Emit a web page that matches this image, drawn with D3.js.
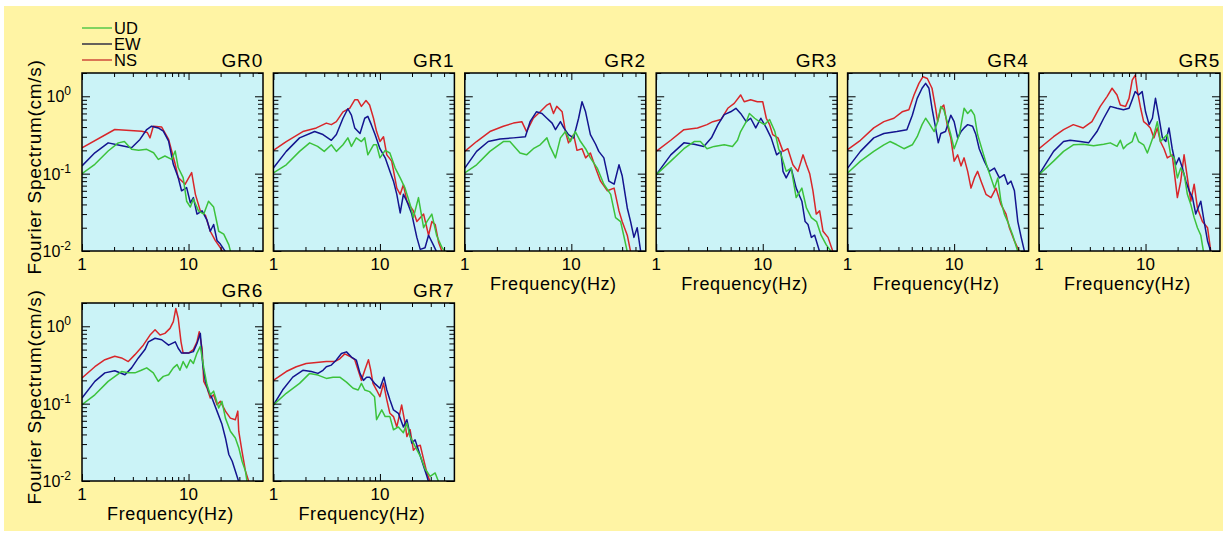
<!DOCTYPE html>
<html><head><meta charset="utf-8">
<script src="https://cdn.jsdelivr.net/npm/d3@7"></script>
<style>html,body{margin:0;padding:0;background:#fff;}svg{display:block;font-family:"Liberation Sans",Arial,sans-serif;}</style>
</head><body>
<svg id="c" width="1223" height="535"></svg>
<script>
// ---------- data ----------
const categories = ["GR0","GR1","GR2","GR3","GR4","GR5","GR6","GR7"];
const components = ["UD","EW","NS"];
const xMajorTicks = [1,10];
const xTickLabels = ["1","10"];
const xMinorTicks = [2,3,4,5,6,7,8,9,20,30,40];
const yMajorTicks = [0.01,0.1,1];
const yTickExp = ["-2","-1","0"];
const yMinorTicks = [0.02,0.03,0.04,0.05,0.06,0.07,0.08,0.09,0.2,0.3,0.4,0.5,0.6,0.7,0.8,0.9,2];

// [frequency Hz, amplitude cm/s]
const GR0_UD = [[1,0.1],[1.32,0.132],[1.76,0.196],[2.19,0.25],[2.5,0.26],[2.92,0.206],[3.4,0.2],[4.05,0.206],[4.7,0.186],[5.2,0.153],[6.0,0.169],[6.95,0.153],[7.5,0.196],[8.0,0.12],[8.9,0.089],[9.6,0.044],[10.4,0.037],[11.1,0.047],[12.4,0.033],[13.9,0.03],[15.4,0.044],[17.2,0.037],[19.2,0.018],[21.4,0.0165],[23.9,0.012],[24.8,0.0098]];
const GR0_EW = [[1,0.126],[1.32,0.186],[1.76,0.25],[2.19,0.234],[2.92,0.216],[3.5,0.277],[4.05,0.372],[4.5,0.41],[5.2,0.39],[5.8,0.354],[6.5,0.263],[7.2,0.132],[8.0,0.089],[8.6,0.06],[9.6,0.066],[10.4,0.042],[11.1,0.049],[12.0,0.03],[13.4,0.033],[14.9,0.025],[16.0,0.018],[17.2,0.022],[18.5,0.0137],[19.9,0.0123],[22.2,0.0098]];
const GR0_NS = [[1,0.216],[2.03,0.372],[3.63,0.354],[4.1,0.34],[4.35,0.29],[4.67,0.41],[5.6,0.4],[6.5,0.277],[7.5,0.132],[8.0,0.089],[9.3,0.073],[10.7,0.103],[11.6,0.054],[12.9,0.033],[14.4,0.029],[16.0,0.018],[17.8,0.0137],[19.9,0.011],[20.9,0.0098]];

const GR1_UD = [[1,0.102],[1.32,0.13],[1.76,0.194],[2.19,0.25],[2.6,0.225],[3.0,0.194],[3.5,0.236],[3.9,0.194],[4.5,0.236],[5.0,0.29],[5.4,0.225],[6.0,0.29],[6.7,0.26],[7.2,0.29],[7.7,0.175],[8.7,0.236],[9.3,0.236],[10,0.16],[11.2,0.2],[12.4,0.185],[13.9,0.118],[15.5,0.088],[17.2,0.065],[19.2,0.04],[20.6,0.027],[23,0.049],[25.7,0.02],[27.6,0.024],[30.7,0.03],[34,0.016],[38.3,0.011],[41,0.0098]];
const GR1_EW = [[1,0.118],[1.32,0.194],[1.76,0.29],[2.44,0.35],[2.92,0.32],[3.5,0.27],[3.9,0.32],[4.5,0.52],[5.0,0.69],[5.4,0.57],[5.8,0.39],[6.5,0.33],[7.2,0.52],[7.7,0.55],[8.3,0.43],[9.0,0.32],[10,0.21],[11.2,0.16],[12.4,0.107],[13.4,0.08],[14.4,0.054],[15.5,0.031],[16.6,0.054],[17.9,0.044],[19.9,0.03],[22.2,0.015],[23.9,0.0105],[26.5,0.011],[28.6,0.016],[31.7,0.012],[34,0.0098]];
const GR1_NS = [[1,0.2],[1.32,0.26],[1.89,0.35],[2.53,0.39],[3.14,0.45],[3.5,0.43],[3.9,0.47],[4.5,0.63],[5.2,0.7],[5.8,0.9],[6.2,0.9],[6.7,0.74],[7.4,0.88],[8.0,0.77],[8.7,0.52],[9.3,0.35],[10,0.26],[10.8,0.3],[11.6,0.175],[12.9,0.145],[14.4,0.065],[15.5,0.054],[16.6,0.072],[17.9,0.044],[20.6,0.033],[22.2,0.024],[25.7,0.03],[28.6,0.016],[30.7,0.024],[33,0.022],[35.5,0.013],[38.3,0.0098]];

const GR2_UD = [[1,0.102],[1.29,0.13],[1.72,0.194],[2.3,0.26],[2.65,0.26],[3.3,0.185],[3.8,0.175],[4.4,0.21],[5.1,0.236],[5.9,0.29],[6.3,0.225],[7.1,0.16],[7.9,0.29],[8.8,0.35],[9.8,0.26],[10.9,0.35],[12.2,0.26],[13.6,0.21],[15.1,0.16],[17.5,0.118],[20.2,0.073],[23.4,0.054],[26,0.027],[29,0.024],[31,0.016],[33.5,0.0098]];
const GR2_EW = [[1,0.118],[1.29,0.194],[1.66,0.26],[2.14,0.28],[2.86,0.29],[3.7,0.3],[4.1,0.47],[4.7,0.63],[5.3,0.6],[5.9,0.52],[6.6,0.45],[7.1,0.37],[7.9,0.47],[8.5,0.39],[9.4,0.32],[10.5,0.29],[11.7,0.52],[12.6,0.85],[13.6,0.63],[15.1,0.32],[16.9,0.24],[18.1,0.194],[20.2,0.16],[22.5,0.08],[25.2,0.073],[28,0.13],[30,0.094],[33.5,0.036],[36,0.024],[38.7,0.015],[41.5,0.02],[44.8,0.0098]];
const GR2_NS = [[1,0.194],[1.29,0.26],[1.72,0.35],[2.3,0.41],[2.86,0.45],[3.43,0.47],[3.8,0.35],[4.4,0.52],[5.1,0.63],[5.9,0.77],[6.3,0.81],[6.8,0.6],[7.3,0.74],[8.2,0.63],[8.8,0.35],[9.4,0.25],[10.5,0.32],[11.3,0.2],[12.6,0.21],[13.6,0.16],[15.1,0.185],[16.9,0.118],[18.8,0.08],[21.8,0.06],[25.2,0.065],[28,0.033],[30,0.024],[33.5,0.016],[36,0.0098]];

const GR3_UD = [[1,0.097],[1.37,0.145],[1.82,0.21],[2.27,0.26],[2.6,0.26],[3.0,0.21],[3.5,0.225],[4.35,0.236],[5.2,0.225],[5.8,0.27],[6.2,0.35],[7.0,0.47],[7.5,0.6],[8.4,0.52],[9.3,0.47],[10.4,0.43],[11.6,0.5],[13,0.35],[14.1,0.21],[15.2,0.16],[16.6,0.107],[18.5,0.118],[20.6,0.049],[23.3,0.065],[25.7,0.036],[28.6,0.027],[32,0.024],[35.3,0.016],[39.5,0.012],[44,0.0098]];
const GR3_EW = [[1,0.097],[1.37,0.175],[1.82,0.25],[2.27,0.24],[2.8,0.225],[3.3,0.29],[3.8,0.43],[4.35,0.58],[5.0,0.63],[5.6,0.7],[6.2,0.6],[7.0,0.47],[7.7,0.52],[8.6,0.39],[9.6,0.52],[10.8,0.39],[12,0.29],[13.5,0.175],[14.8,0.194],[15.5,0.107],[16.6,0.088],[18.5,0.118],[20.6,0.065],[23.3,0.044],[25,0.024],[26.6,0.022],[28.6,0.015],[30.7,0.016],[34.2,0.0098]];
const GR3_NS = [[1,0.194],[1.37,0.27],[1.82,0.37],[2.44,0.39],[3.0,0.43],[3.4,0.47],[4.05,0.5],[4.7,0.7],[5.4,0.81],[6.2,1.04],[6.7,0.85],[7.7,0.9],[8.9,0.85],[10,0.85],[10.8,0.52],[11.6,0.43],[12.4,0.32],[13.9,0.29],[15.5,0.194],[17.2,0.21],[19.2,0.13],[21.4,0.107],[23.9,0.175],[25.7,0.13],[27.6,0.1],[29.6,0.06],[31.8,0.03],[34.2,0.033],[36.8,0.018],[41,0.015],[45.6,0.0098]];

const GR4_UD = [[1,0.102],[1.32,0.145],[1.76,0.194],[2.19,0.236],[2.5,0.26],[2.9,0.236],[3.38,0.21],[4.05,0.236],[4.5,0.3],[5.0,0.43],[5.4,0.52],[5.8,0.45],[6.5,0.35],[7.0,0.47],[7.5,0.74],[8.0,0.67],[8.6,0.47],[9.3,0.32],[10,0.21],[11.2,0.32],[12.4,0.7],[13.4,0.6],[14.4,0.67],[15.5,0.57],[16.6,0.32],[18.5,0.194],[20.6,0.118],[22.2,0.088],[23.9,0.065],[25.7,0.088],[27.5,0.044],[29.6,0.03],[31.8,0.024],[35.5,0.016],[39.6,0.0098]];
const GR4_EW = [[1,0.118],[1.32,0.194],[1.76,0.29],[2.19,0.33],[2.9,0.35],[3.6,0.37],[4.05,0.57],[4.5,0.94],[5.0,1.27],[5.4,1.47],[5.8,1.27],[6.2,0.7],[6.7,0.39],[7.1,0.25],[7.5,0.33],[8.3,0.35],[9.3,0.57],[10,0.47],[10.8,0.29],[11.6,0.35],[12.4,0.39],[13.4,0.43],[14.9,0.41],[16,0.32],[17.2,0.21],[19.2,0.145],[21.4,0.107],[23.9,0.118],[26.6,0.088],[29.6,0.097],[31.8,0.073],[34.2,0.08],[36.8,0.06],[39.6,0.024],[42.6,0.015],[45.8,0.0098]];
const GR4_NS = [[1,0.204],[1.32,0.27],[1.76,0.39],[2.19,0.47],[2.72,0.52],[3.25,0.63],[3.76,0.67],[4.2,1.04],[4.67,1.47],[5.1,1.79],[5.6,1.7],[6.2,1.27],[6.7,0.7],[7.0,0.47],[7.5,0.7],[8.0,0.77],[8.6,0.43],[9.3,0.29],[10,0.145],[10.8,0.175],[11.6,0.126],[12.4,0.16],[13.4,0.107],[14.4,0.065],[15.5,0.088],[16.6,0.107],[17.9,0.08],[19.9,0.054],[22.2,0.049],[24.7,0.065],[27.5,0.04],[30.7,0.03],[33,0.02],[36.8,0.0135],[41,0.0098]];

const GR5_UD = [[1,0.097],[1.37,0.145],[1.7,0.194],[2.1,0.236],[2.6,0.24],[3.25,0.23],[4.05,0.24],[4.67,0.25],[5.4,0.225],[5.8,0.27],[6.2,0.21],[6.7,0.236],[7.5,0.26],[8.0,0.34],[8.6,0.26],[9.6,0.236],[10.4,0.185],[11.1,0.236],[12,0.32],[12.9,0.47],[13.8,0.26],[14.9,0.29],[16,0.32],[17.2,0.175],[18.5,0.16],[19.9,0.088],[21.4,0.118],[23,0.1],[24.7,0.054],[26.6,0.04],[28.6,0.027],[30.7,0.02],[33,0.016],[35,0.0098]];
const GR5_EW = [[1,0.097],[1.37,0.194],[1.7,0.26],[1.96,0.27],[2.44,0.26],[2.92,0.25],[3.5,0.35],[4.05,0.52],[4.67,0.74],[5.4,0.7],[6.2,0.67],[7.0,0.7],[7.5,0.9],[8.0,1.15],[8.6,1.04],[9.3,1.15],[10,0.63],[10.8,0.43],[11.6,0.52],[12.4,0.94],[13.4,0.52],[14.4,0.29],[15.5,0.26],[16.6,0.39],[17.8,0.21],[19.2,0.13],[20.6,0.16],[22.2,0.118],[23.9,0.08],[25.7,0.06],[27.6,0.049],[29.6,0.03],[33,0.044],[35.5,0.024],[38.2,0.0135],[41,0.0098]];
const GR5_NS = [[1,0.21],[1.37,0.3],[1.7,0.37],[2.1,0.43],[2.6,0.39],[3.14,0.47],[3.76,0.74],[4.35,0.99],[4.85,1.27],[5.4,1.04],[5.8,0.77],[6.5,0.74],[7.0,0.94],[7.5,1.62],[8.0,1.88],[8.4,1.15],[9.0,0.7],[9.6,0.47],[10.4,0.43],[11.1,0.39],[12,0.29],[12.9,0.39],[13.8,0.26],[14.9,0.21],[16,0.16],[17.8,0.175],[19.9,0.049],[21.4,0.08],[23,0.175],[24.7,0.088],[26.6,0.044],[28.6,0.073],[30.7,0.036],[34.2,0.024],[38.2,0.02],[41,0.0098]];

const GR6_UD = [[1,0.097],[1.32,0.13],[1.76,0.194],[2.35,0.26],[2.72,0.25],[3.14,0.25],[3.6,0.27],[4.05,0.29],[4.67,0.25],[5.2,0.194],[5.8,0.225],[6.5,0.236],[7.2,0.29],[7.8,0.32],[8.3,0.27],[8.9,0.35],[9.6,0.29],[10.4,0.37],[11.1,0.33],[12,0.45],[12.9,0.55],[13.9,0.29],[14.9,0.175],[16,0.13],[17.2,0.145],[19.2,0.088],[20.6,0.107],[22.2,0.065],[24.7,0.044],[27.5,0.036],[29.6,0.027],[31.8,0.018],[34.2,0.0135],[35.4,0.0098]];
const GR6_EW = [[1,0.118],[1.32,0.194],[1.64,0.25],[2.03,0.266],[2.53,0.236],[2.92,0.29],[3.38,0.39],[3.9,0.5],[4.2,0.63],[4.85,0.7],[5.6,0.67],[6.5,0.57],[7.5,0.63],[8.0,0.52],[8.6,0.45],[10,0.45],[11.1,0.47],[12,0.6],[12.9,0.81],[13.6,0.32],[14.4,0.194],[15.4,0.145],[16.6,0.118],[18.5,0.08],[20.6,0.054],[22.2,0.036],[23.9,0.022],[25.7,0.018],[27.5,0.0135],[29.6,0.0098]];
const GR6_NS = [[1,0.215],[1.32,0.3],[1.64,0.37],[2.03,0.41],[2.35,0.39],[2.72,0.35],[3.14,0.43],[3.76,0.57],[4.35,0.77],[4.85,0.9],[5.4,0.77],[6.0,0.81],[6.7,0.94],[7.2,1.15],[7.6,1.7],[8.0,1.27],[8.5,0.63],[8.9,0.45],[10,0.45],[11.1,0.5],[12,0.63],[12.6,0.85],[13.4,0.52],[13.9,0.194],[14.9,0.16],[16,0.118],[17.2,0.13],[18.5,0.097],[19.9,0.107],[22.2,0.08],[24.7,0.065],[27.5,0.062],[29,0.08],[29.6,0.044],[31.8,0.024],[34.2,0.0135],[36.8,0.0098]];

const GR7_UD = [[1,0.096],[1.32,0.136],[1.76,0.183],[2.19,0.246],[2.62,0.234],[3.14,0.212],[3.63,0.22],[4.2,0.22],[4.85,0.19],[5.6,0.158],[6.25,0.15],[6.7,0.183],[7.2,0.15],[8.0,0.143],[8.9,0.123],[9.3,0.062],[10.4,0.083],[11.2,0.068],[12.4,0.068],[13.4,0.046],[14.9,0.05],[16.6,0.042],[17.9,0.056],[19.2,0.0375],[21.4,0.028],[23.9,0.021],[26.6,0.0143],[29.6,0.0115],[33,0.0127],[35.5,0.0098]];
const GR7_EW = [[1,0.096],[1.22,0.15],[1.52,0.22],[1.89,0.27],[2.27,0.26],[2.62,0.246],[2.92,0.27],[3.14,0.3],[3.5,0.315],[3.9,0.366],[4.35,0.445],[4.85,0.467],[5.4,0.4],[6.0,0.366],[6.5,0.246],[7.0,0.2],[7.5,0.22],[8.0,0.22],[8.9,0.183],[10,0.158],[10.9,0.22],[11.6,0.15],[12.4,0.112],[13.4,0.083],[14.9,0.075],[16.6,0.05],[17.9,0.062],[19.9,0.031],[21.4,0.034],[23,0.025],[25.7,0.0155],[27.6,0.0115],[28.6,0.0098]];
const GR7_NS = [[1,0.2],[1.32,0.26],[1.64,0.3],[2.03,0.33],[2.53,0.34],[3.14,0.35],[3.76,0.35],[4.2,0.38],[4.67,0.44],[5.2,0.41],[5.8,0.37],[6.25,0.27],[6.7,0.2],[7.2,0.27],[7.8,0.37],[8.2,0.27],[8.6,0.183],[9.3,0.15],[10,0.123],[10.8,0.183],[11.6,0.112],[12.4,0.075],[13.4,0.068],[14.4,0.05],[16,0.096],[17.2,0.056],[17.9,0.0375],[19.2,0.046],[20.6,0.025],[22.2,0.028],[23.9,0.029],[25.7,0.019],[27.6,0.0127],[29.6,0.0098]];

const seriesByPanel = {
  GR0:{UD:GR0_UD,EW:GR0_EW,NS:GR0_NS}, GR1:{UD:GR1_UD,EW:GR1_EW,NS:GR1_NS},
  GR2:{UD:GR2_UD,EW:GR2_EW,NS:GR2_NS}, GR3:{UD:GR3_UD,EW:GR3_EW,NS:GR3_NS},
  GR4:{UD:GR4_UD,EW:GR4_EW,NS:GR4_NS}, GR5:{UD:GR5_UD,EW:GR5_EW,NS:GR5_NS},
  GR6:{UD:GR6_UD,EW:GR6_EW,NS:GR6_NS}, GR7:{UD:GR7_UD,EW:GR7_EW,NS:GR7_NS}
};

// ---------- style / layout ----------
const colors = {UD:"#3cc23c", EW:"#14148f", NS:"#d8262a"};
const legendColors = {UD:"#3cc23c", EW:"#111133", NS:"#c8302a"};
const drawOrder = ["NS","EW","UD"];
const bg = "#fff4a4", panelFill = "#cbf3f7";
const W = 181, H = 178, colStep = 191.4, rowStep = 230, left0 = 82, top0 = 73;

const svg = d3.select("#c");
svg.append("rect").attr("x",4).attr("y",6).attr("width",1219).attr("height",525).attr("fill",bg);

// legend
components.forEach((c,i)=>{
  const ly = [28,44,60][i];
  svg.append("line").attr("x1",82).attr("x2",112).attr("y1",ly).attr("y2",ly)
    .attr("stroke",legendColors[c]).attr("stroke-width",1.3);
  svg.append("text").attr("x",114).attr("y",ly+6).attr("font-size",16.5).attr("fill","#000").text(c);
});

const x = d3.scaleLog().domain([1,50]).range([0,W]);
const y = d3.scaleLog().domain([0.01,2]).range([H,0]);
const line = d3.line().x(d=>x(d[0])).y(d=>y(d[1]));

categories.forEach((name,i)=>{
  const row = i<6?0:1, col = i<6?i:i-6;
  const gx = left0 + col*colStep, gy = top0 + row*rowStep;
  const g = svg.append("g").attr("transform",`translate(${gx},${gy})`);
  g.append("rect").attr("width",W).attr("height",H).attr("fill",panelFill);
  const cid = "clip"+i;
  g.append("clipPath").attr("id",cid).append("rect").attr("width",W).attr("height",H);
  const lines = g.append("g").attr("clip-path",`url(#${cid})`);
  drawOrder.forEach(c=>{
    lines.append("path").datum(seriesByPanel[name][c]).attr("d",line)
      .attr("fill","none").attr("stroke",colors[c]).attr("stroke-width",1.5)
      .attr("stroke-linejoin","round");
  });
  // ticks
  const mk = (axis, tr) => {
    const a = g.append("g").attr("transform",tr).call(axis);
    a.select(".domain").remove();
    a.selectAll("line").attr("stroke","#000").attr("stroke-width",1);
  };
  mk(d3.axisBottom(x).tickValues(xMinorTicks).tickSize(-4).tickFormat(""),`translate(0,${H})`);
  mk(d3.axisBottom(x).tickValues(xMajorTicks).tickSize(-7).tickFormat(""),`translate(0,${H})`);
  mk(d3.axisTop(x).tickValues(xMinorTicks).tickSize(-4).tickFormat(""),`translate(0,0)`);
  mk(d3.axisTop(x).tickValues(xMajorTicks).tickSize(-7).tickFormat(""),`translate(0,0)`);
  mk(d3.axisLeft(y).tickValues(yMinorTicks).tickSize(-5).tickFormat(""),`translate(0,0)`);
  mk(d3.axisLeft(y).tickValues(yMajorTicks).tickSize(-8).tickFormat(""),`translate(0,0)`);
  mk(d3.axisRight(y).tickValues(yMinorTicks).tickSize(-5).tickFormat(""),`translate(${W},0)`);
  mk(d3.axisRight(y).tickValues(yMajorTicks).tickSize(-8).tickFormat(""),`translate(${W},0)`);
  g.append("rect").attr("width",W).attr("height",H).attr("fill","none").attr("stroke","#000").attr("stroke-width",1.5);
  // title
  g.append("text").attr("x",W).attr("y",-6).attr("text-anchor","end").attr("font-size",19).attr("letter-spacing",0.8).text(name);
  // x tick labels
  xMajorTicks.forEach((t,k)=>{
    g.append("text").attr("x",x(t)).attr("y",H+19).attr("text-anchor","middle").attr("font-size",17).text(xTickLabels[k]);
  });
  // y tick labels + y title on first column
  if(col===0){
    yMajorTicks.forEach((t,k)=>{
      const tx = g.append("text").attr("x",-11).attr("y",y(t)+6).attr("text-anchor","end").attr("font-size",16);
      tx.append("tspan").text("10");
      tx.append("tspan").attr("dy",-7).attr("font-size",12).text(yTickExp[k]);
    });
    g.append("text").attr("transform",`translate(${-41},${H/2+5}) rotate(-90)`)
      .attr("text-anchor","middle").attr("font-size",19).attr("letter-spacing",0.7).text("Fourier Spectrum(cm/s)");
  }
  // x title where no panel below
  if(!(row===0 && col<2)){
    g.append("text").attr("x",W/2-2).attr("y",H+39).attr("text-anchor","middle").attr("font-size",18).attr("letter-spacing",0.6).text("Frequency(Hz)");
  }
});
</script>
</body></html>
